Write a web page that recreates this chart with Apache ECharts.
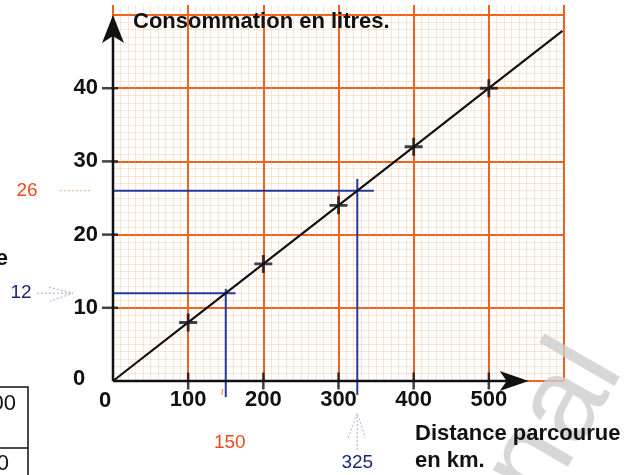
<!DOCTYPE html>
<html>
<head>
<meta charset="utf-8">
<script src="https://cdn.jsdelivr.net/npm/echarts@6/dist/echarts.min.js"></script>
<style>
  html, body { margin: 0; padding: 0; background: #fff; }
  #chart { width: 628px; height: 475px; }
</style>
</head>
<body>
<div id="chart"></div>
<script>
// Fuel consumption (litres) against distance travelled (km)
const distances = [0, 100, 200, 300, 400, 500, 598];
const litres = [0, 8, 16, 24, 32, 40, 47.84];

// Plotted points of the table (drawn as crosses)
const pointDistances = [100, 200, 300, 400, 500];
const pointLitres = [8, 16, 24, 32, 40];

// Graphical readings
const readDistances = [150, 325];
const readLitres = [12, 26];

// Axis ticks
const xTicks = [100, 200, 300, 400, 500];
const yTicks = [10, 20, 30, 40];

const FONT = '"Liberation Sans", Arial, sans-serif';
const MAJOR = '#f2621f';
const MINOR = 'rgba(245,170,110,0.3)';
const INK = '#111111';
const BLUE = '#24399a';
const NAVY = '#1b2a70';
const RED = '#ee4a1d';

const chart = echarts.init(document.getElementById('chart'), null, { renderer: 'canvas' });

const xBase = {
  type: 'value', min: 0, max: 600, interval: 100,
  axisLine: { show: false }, axisTick: { show: false },
  minorTick: { show: false, splitNumber: 10 },
  splitLine: { show: true, lineStyle: { color: MAJOR, width: 2 } },
  minorSplitLine: { show: true, lineStyle: { color: MINOR, width: 1 } }
};

const pairs = (xs, ys) => xs.map((x, i) => [x, ys[i]]);

// Reading guides: horizontal from the value axis, vertical down to the distance axis
const guideH12 = [[-39, readLitres[0]], [readDistances[0] + 13, readLitres[0]]];
const guideV150 = [[readDistances[0], readLitres[0] + 0.6], [readDistances[0], -2.2]];
const guideH26 = [[-24, readLitres[1]], [readDistances[1] + 22, readLitres[1]]];
const guideV325 = [[readDistances[1], readLitres[1] + 1.6], [readDistances[1], -1.9]];

const guideSeries = [guideH12, guideV150, guideH26, guideV325].map(d => ({
  type: 'line', data: d, clip: false, symbol: 'none', silent: true, z: 3,
  lineStyle: { color: BLUE, width: 2 }
}));

const option = {
  animation: false,
  backgroundColor: '#ffffff',
  grid: [
    { left: 113, right: 64, top: 15, bottom: 94 },
    { left: 113, right: 64, top: 5, height: 10 }
  ],
  xAxis: [
    Object.assign({}, xBase, {
      gridIndex: 0,
      axisLabel: {
        show: true, margin: 8, fontSize: 22, fontWeight: 'bold', color: INK, fontFamily: FONT,
        formatter: v => (xTicks.includes(v) ? String(v) : '')
      }
    }),
    Object.assign({}, xBase, { gridIndex: 1, axisLabel: { show: false } })
  ],
  yAxis: [
    {
      type: 'value', min: 0, max: 50, interval: 10, gridIndex: 0,
      axisLine: { show: false }, axisTick: { show: false },
      minorTick: { show: false, splitNumber: 10 },
      splitLine: { show: true, lineStyle: { color: MAJOR, width: 2 } },
      minorSplitLine: { show: true, lineStyle: { color: MINOR, width: 1 } },
      axisLabel: {
        show: true, margin: 15, fontSize: 22, fontWeight: 'bold', color: INK, fontFamily: FONT,
        padding: [0, 0, 8, 0],
        formatter: v => (yTicks.includes(v) ? String(v) : '')
      }
    },
    {
      type: 'value', min: 0, max: 1, gridIndex: 1,
      axisLine: { show: false }, axisTick: { show: false }, axisLabel: { show: false },
      splitLine: { show: false }
    }
  ],
  series: guideSeries.concat([
    {
      type: 'line', data: pairs(distances, litres), symbol: 'none', silent: true, z: 4,
      lineStyle: { color: INK, width: 2.2 }
    },
    {
      type: 'scatter', data: pairs(pointDistances, pointLitres), silent: true, z: 5,
      symbol: 'path://M4.2,0H5.8V4.2H10V5.8H5.8V10H4.2V5.8H0V4.2H4.2Z',
      symbolSize: 18, itemStyle: { color: INK }
    },
    {
      type: 'scatter', data: xTicks.map(v => [v, 0]), silent: true, z: 6,
      symbol: 'rect', symbolSize: [2.5, 17], itemStyle: { color: INK }
    },
    {
      type: 'scatter', data: yTicks.map(v => [0, v]), silent: true, z: 6,
      symbol: 'rect', symbolSize: [16, 2.5], symbolOffset: [-3, 0], itemStyle: { color: INK }
    }
  ])
};

chart.setOption(option);

// Axis lines, arrows and annotations placed from the axis scales
const px = (x, y) => chart.convertToPixel({ gridIndex: 0 }, [x, y]);
const o = px(0, 0);
const xTip = px(553, 0);
const yTip = px(0, 50);
const p12 = px(0, readLitres[0]);
const p26 = px(0, readLitres[1]);
const p150 = px(readDistances[0], 0);
const p325 = px(readDistances[1], 0);

const ink = { stroke: INK, lineWidth: 2.5 };
const txt = (x, y, text, size, color, weight, align, extra) => Object.assign({
  type: 'text', x: x, y: y, z: 20, silent: true,
  style: { text: text, fill: color, font: (weight || 'normal') + ' ' + size + 'px ' + FONT,
           textAlign: align || 'center', textVerticalAlign: 'middle' }
}, extra || {});
const dashed = (points, color) => ({
  type: 'polyline', z: 20, silent: true, shape: { points: points },
  style: { stroke: color, lineWidth: 1, lineDash: [2, 2], fill: null }
});

chart.setOption({
  graphic: [
    // watermark, under the drawing
    txt(515, 492, 'nal', 120, 'rgba(205,205,205,0.8)', 'normal', 'left', { rotation: Math.PI / 3, z: 1 }),

    // axes
    { type: 'line', z: 10, silent: true, shape: { x1: o[0], y1: o[1], x2: xTip[0] - 10, y2: o[1] }, style: ink },
    { type: 'polygon', z: 10, silent: true, shape: { points: [[xTip[0], o[1]], [xTip[0] - 29, o[1] - 10], [xTip[0] - 22, o[1]], [xTip[0] - 29, o[1] + 10]] }, style: { fill: INK } },
    { type: 'line', z: 10, silent: true, shape: { x1: o[0], y1: o[1], x2: o[0], y2: yTip[1] + 10 }, style: ink },
    { type: 'polygon', z: 10, silent: true, shape: { points: [[o[0], yTip[1]], [o[0] - 11, yTip[1] + 28], [o[0], yTip[1] + 21], [o[0] + 11, yTip[1] + 28]] }, style: { fill: INK } },

    // origin labels
    txt(o[0] - 8, o[1] + 20, '0', 22, INK, 'bold'),
    txt(o[0] - 34, o[1] - 2, '0', 22, INK, 'bold'),

    // axis titles
    txt(133, 22, 'Consommation en litres.', 22, INK, 'bold', 'left'),
    txt(415, 434, 'Distance parcourue', 22, INK, 'bold', 'left'),
    txt(415, 461, 'en km.', 22, INK, 'bold', 'left'),

    // reading annotations
    txt(27, p26[1], '26', 19, RED),
    dashed([[60, p26[1]], [90, p26[1]]], '#f4b48c'),
    txt(21, p12[1], '12', 19, NAVY),
    dashed([[37, p12[1]], [72, p12[1]]], '#a4a8dc'),
    dashed([[49, p12[1] - 6], [73, p12[1]], [50, p12[1] + 8]], '#a4a8dc'),
    txt(p150[0] + 4, 443, '150', 19, RED),
    { type: 'line', z: 20, silent: true, shape: { x1: p150[0] - 3, y1: o[1] + 8, x2: p150[0] - 4, y2: o[1] + 14 }, style: { stroke: '#f39a70', lineWidth: 1.5 } },
    txt(p325[0], 463, '325', 19, NAVY),
    dashed([[p325[0], 450], [p325[0], 414]], '#a9b0d4'),
    dashed([[p325[0] - 9, 438], [p325[0], 413], [p325[0] + 8, 438]], '#a9b0d4'),

    // neighbouring page content cut by the frame
    txt(8, 259, 'e', 22, INK, 'bold', 'right'),
    { type: 'polyline', z: 20, silent: true, shape: { points: [[0, 387], [28, 387], [28, 475]] }, style: { stroke: INK, lineWidth: 1.5, fill: null } },
    { type: 'line', z: 20, silent: true, shape: { x1: 0, y1: 448, x2: 28, y2: 448 }, style: { stroke: INK, lineWidth: 1.5 } },
    txt(16, 404, '00', 22, INK, 'normal', 'right'),
    txt(9, 464, '0', 22, INK, 'normal', 'right')
  ]
});
</script>
</body>
</html>
